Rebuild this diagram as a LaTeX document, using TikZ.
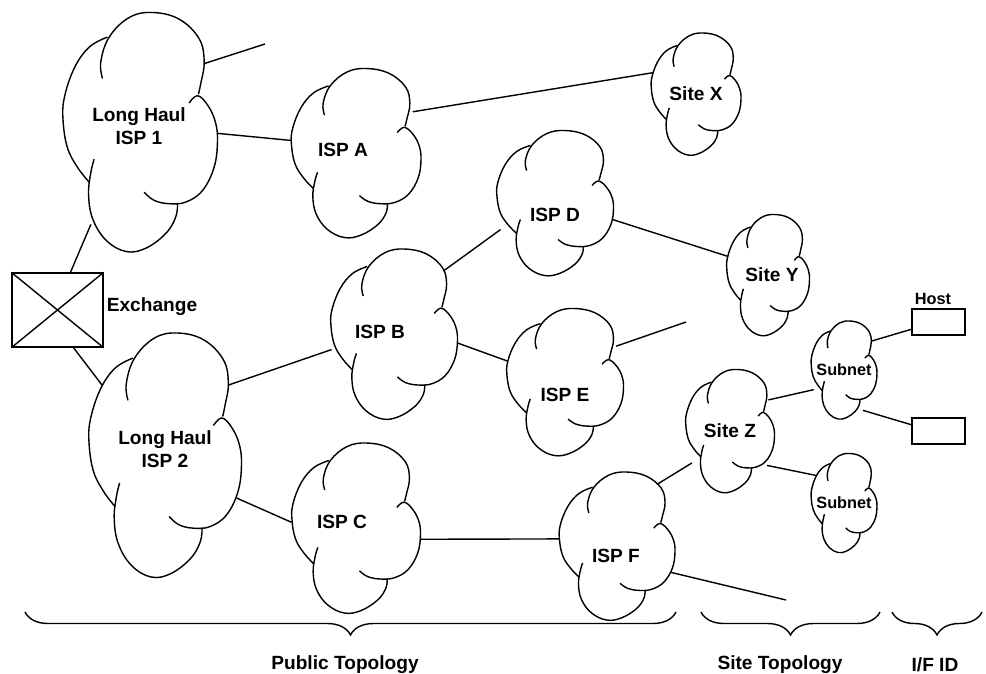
\documentclass[tikz,border=0pt]{standalone}
\usepackage{fontspec}
\setmainfont{Liberation Sans}
\usetikzlibrary{shapes.geometric,backgrounds,decorations.pathreplacing}

\tikzset{
  wire/.style={line width=1pt},
  lobe/.style={line width=1pt},
  cloudanchor/.style={ellipse, inner sep=0pt, outer sep=0pt},
  cloudtext/.style={font=\bfseries\fontsize{13.6}{16}\selectfont, align=center},
  smalltext/.style={font=\bfseries\fontsize{11.6}{13}\selectfont},
  boxnode/.style={draw, line width=1pt, fill=white, inner sep=0pt},
  bracedeco/.style={line width=1pt, decorate, decoration={brace, mirror, amplitude=5.75mm}},
  % one cloud, 1 x 1, centred on the origin
  cloudshape/.pic={
    \fill[white] (-0.210,-0.397) -- (-0.199,-0.397) -- (-0.070,-0.479) -- (0.081,-0.500) -- (0.253,-0.472)
      -- (0.382,-0.390) -- (0.414,-0.293) -- (0.392,-0.203) -- (0.377,-0.158) -- (0.435,-0.114)
      -- (0.485,-0.045) -- (0.500,0.038) -- (0.478,0.148) -- (0.403,0.245) -- (0.296,0.293)
      -- (0.242,0.297) -- (0.231,0.355) -- (0.167,0.424) -- (0.038,0.486) -- (-0.091,0.500)
      -- (-0.220,0.452) -- (-0.306,0.362) -- (-0.332,0.259) -- (-0.328,0.210) -- (-0.403,0.148)
      -- (-0.468,0.066) -- (-0.496,-0.045) -- (-0.489,-0.141) -- (-0.425,-0.266) -- (-0.328,-0.355) -- cycle;
    \draw[lobe] plot[smooth, tension=0.65] coordinates {(-0.242,-0.224) (-0.253,-0.293) (-0.199,-0.397) (-0.070,-0.479)
      (0.081,-0.500) (0.253,-0.472) (0.382,-0.390) (0.414,-0.293) (0.392,-0.203) (0.377,-0.158)};
    \draw[lobe] plot[smooth, tension=0.65] coordinates {(0.317,-0.121) (0.371,-0.152) (0.435,-0.114) (0.485,-0.045)
      (0.500,0.038) (0.478,0.148) (0.403,0.245) (0.296,0.293) (0.188,0.300) (0.091,0.286) (0.027,0.252)};
    \draw[lobe] plot[smooth, tension=0.65] coordinates {(-0.296,0.114) (-0.317,0.169) (-0.332,0.259) (-0.306,0.362)
      (-0.220,0.452) (-0.091,0.500) (0.038,0.486) (0.167,0.424) (0.231,0.355) (0.242,0.297)};
    \draw[lobe] plot[smooth, tension=0.65] coordinates {(-0.210,-0.397) (-0.328,-0.355) (-0.425,-0.266) (-0.489,-0.141)
      (-0.496,-0.045) (-0.468,0.066) (-0.403,0.148) (-0.328,0.210)};
  }
}

% name, centre, width, height
\newcommand{\netcloud}[4]{%
  \pic[xscale=#3, yscale=#4] at #2 {cloudshape};
  \node[cloudanchor, minimum width=#3*0.25mm, minimum height=#4*0.25mm] (#1) at #2 {};
}

\begin{document}
\begin{tikzpicture}[x=0.25mm, y=-0.25mm]
\useasboundingbox (0,0) rectangle (986,674);

\netcloud{lh1}{(140,132)}{155}{239}
\netcloud{lh2}{(165,455)}{153}{244}
\netcloud{ispA}{(356,153)}{130}{169}
\netcloud{ispB}{(394,334)}{127}{170}
\netcloud{ispC}{(356,528)}{129}{170}
\netcloud{ispD}{(555,203)}{117}{145}
\netcloud{ispE}{(565,382)}{117}{147}
\netcloud{ispF}{(617,546)}{116}{148}
\netcloud{siteX}{(696,94)}{90}{122}
\netcloud{siteY}{(768,275)}{83}{121}
\netcloud{siteZ}{(730,431)}{89}{123}
\netcloud{subnetA}{(844,370)}{66}{98}
\netcloud{subnetB}{(844,503)}{66}{99}

\node[cloudtext] at (139,126) {Long Haul\\ISP 1};
\node[cloudtext] at (165,449) {Long Haul\\ISP 2};
\node[cloudtext] at (343,150) {ISP A};
\node[cloudtext] at (380,332) {ISP B};
\node[cloudtext] at (342,522) {ISP C};
\node[cloudtext] at (555,215) {ISP D};
\node[cloudtext] at (565,395) {ISP E};
\node[cloudtext] at (616,556) {ISP F};
\node[cloudtext] at (696,94) {Site X};
\node[cloudtext] at (772,275) {Site Y};
\node[cloudtext] at (730,431) {Site Z};
\node[smalltext] at (844,370) {Subnet};
\node[smalltext] at (844,503) {Subnet};

%exchange and hosts
\node[boxnode, minimum width=22.75mm, minimum height=18.5mm] (exch) at (57.5,310) {};
\draw[wire] (exch.north west) -- (exch.south east) (exch.north east) -- (exch.south west);
\node[cloudtext] at (152,307) {Exchange};
\node[boxnode, minimum width=13.25mm, minimum height=6.5mm] (hostA) at (938.5,322) {};
\node[boxnode, minimum width=13.25mm, minimum height=6.5mm] (hostB) at (938.5,431) {};
\node[smalltext] at (933,299) {Host};

\coordinate (lh1end) at (265,44);
\coordinate (ispEend) at (686,322);
\coordinate (ispFend) at (786,600);

\begin{scope}[on background layer]
\draw[wire] (lh1.47) -- (lh1end);
\draw[wire] (lh1.-1) -- (ispA.169);
\draw[wire] (lh1.242) -- (exch.71);
\draw[wire] (exch.-67) -- (lh2.132);
\draw[wire] (lh2.48) -- (ispB.194);
\draw[wire] (lh2.-31) -- (ispC.175);
\draw[wire] (ispA.36) -- (siteX.153);
\draw[wire] (ispB.53) -- (ispD.206);
\draw[wire] (ispB.-8) -- (ispE.160);
\draw[wire] (ispD.-16) -- (siteY.155);
\draw[wire] (ispE.35) -- (ispEend);
\draw[wire] (ispC.-10) -- (ispF.173);
\draw[wire] (ispF.59) -- (siteZ.220);
\draw[wire] (ispF.-26) -- (ispFend);
\draw[wire] (siteZ.39) -- (subnetA.213);
\draw[wire] (siteZ.-43) -- (subnetB.135);
\draw[wire] (subnetA.47) -- (hostA.195);
\draw[wire] (subnetA.-65) -- (hostB.167);
\end{scope}

%braces
\draw[bracedeco] (25,612) -- (676,612);
\draw[bracedeco] (701,612) -- (880,612);
\draw[bracedeco] (892,612) -- (982,612);
\node[cloudtext] at (345,665) {Public Topology};
\node[cloudtext] at (780,665) {Site Topology};
\node[cloudtext] at (935,665) {I/F ID};
\end{tikzpicture}
\end{document}
